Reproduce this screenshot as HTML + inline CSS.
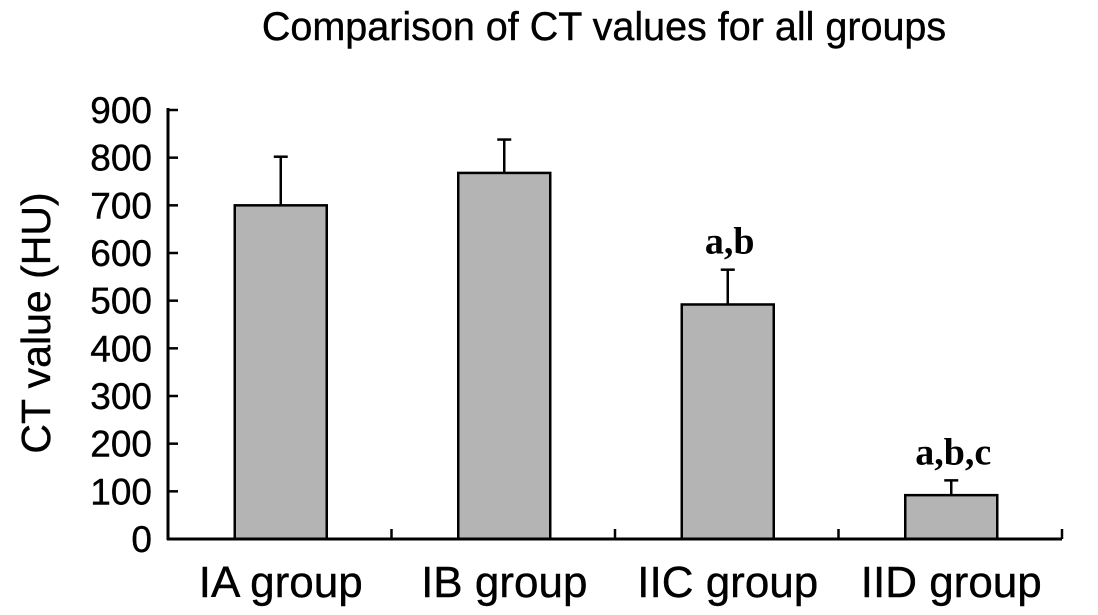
<!DOCTYPE html>
<html><head><meta charset="utf-8"><style>
body{margin:0;background:#fff}
svg{display:block;font-family:"Liberation Sans",Arial,sans-serif}
</style></head><body>
<svg id="c" width="1098" height="615">
<text x="604" y="40" font-size="39.5" text-anchor="middle" stroke="#000" stroke-width="0.4">Comparison of CT values for all groups</text>
<text transform="translate(50,323) rotate(-90)" font-size="41" text-anchor="middle" stroke="#000" stroke-width="0.4">CT value (HU)</text>
<g id="g"></g>
</svg>
<script>
const categories=["IA group","IB group","IIC group","IID group"];
const values=[700,768,492,92];
const errors=[102,70,73,31];
const annotations=["","","a,b","a,b,c"];
const yTicks=[0,100,200,300,400,500,600,700,800,900];
const NS="http://www.w3.org/2000/svg";
const g=document.getElementById('g');
const x0=168,x1=1062,y0=539,y1=110,yMax=900;
const y=v=>y0-(v/yMax)*(y0-y1);
const bw=(x1-x0)/categories.length;
const xc=i=>x0+bw*(i+0.5)+1;
function mk(t,a){const e=document.createElementNS(NS,t);for(const k in a)e.setAttribute(k,a[k]);g.appendChild(e);return e;}
categories.forEach((c,i)=>{
 const cx=xc(i),v=values[i],top=y(v+errors[i]);
 let e=mk('line',{x1:cx,x2:cx,y1:y(v),y2:top,stroke:'#000','stroke-width':2.5});
 
 
 e=mk('line',{x1:cx-7,x2:cx+7,y1:top,y2:top,stroke:'#000','stroke-width':2.5});
 
 
 e=mk('rect',{x:cx-46,y:y(v),width:92,height:y0-y(v),fill:'#b4b4b4',stroke:'#000','stroke-width':2.5});
 
 
 e=mk('text',{x:cx,y:597,'font-size':44,'text-anchor':'middle',stroke:'#000','stroke-width':0.4});e.textContent=c;
 
 
 if(annotations[i]){e=mk('text',{x:cx+2,y:top-16,'font-size':38,'font-weight':'bold','text-anchor':'middle','font-family':'Liberation Serif,serif'});e.textContent=annotations[i];
 
 }
 e=mk('line',{x1:x0+bw*(i+1),x2:x0+bw*(i+1),y1:y0,y2:y0-10,stroke:'#000','stroke-width':2.5});
 
 
});
yTicks.forEach(t=>{
 let e=mk('line',{x1:x0,x2:x0+10,y1:y(t),y2:y(t),stroke:'#000','stroke-width':2.5});
 
 
 e=mk('text',{x:152,y:y(t)+13,'font-size':37,'text-anchor':'end',stroke:'#000','stroke-width':0.4});e.textContent=t;
 
 
});
let a=mk('line',{x1:x0,x2:x0,y1:y1-2,y2:y0+1,stroke:'#000','stroke-width':3});


a=mk('line',{x1:x0-1,x2:x1,y1:y0,y2:y0,stroke:'#000','stroke-width':3});


</script>
</body></html>
